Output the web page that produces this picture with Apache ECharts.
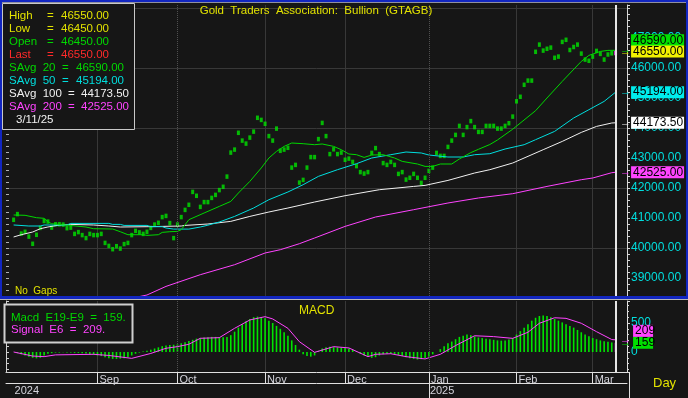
<!DOCTYPE html>
<html>
<head>
<meta charset="utf-8" />
<title>GTAGB</title>
<script src="https://cdn.jsdelivr.net/npm/echarts@6/dist/echarts.min.js"></script>
<style>
html, body { margin: 0; padding: 0; background: #161616; }
#chart { width: 688px; height: 398px; }
</style>
</head>
<body>
<div id="chart"></div>
<script>
// ---- data ----
// axis runs over weekdays, two empty days before the first bar, three after the last
var axisFrom = '2024-07-30', axisTo = '2025-03-14';
var firstBar = 2;   // 2024-08-01
var lastBar = 160;  // 2025-03-11

// mid of each daily high/low mark (day 0 = 2024-08-01)
var mid = [
  40940, 41130, 40480, 40540, 40380, 40140, 40440, 40670, 40900, 40880,
  40680, 40790, 40790, 40780, 40660, 40680, 40470, 40530, 40430, 40330,
  40470, 40430, 40430, 40470, 40170, 40070, 39960, 40060, 39980, 40130,
  40170, 40430, 40570, 40520, 40470, 40540, 40670, 40780, 40840, 41030,
  41070, 40830, 40330, 40780, 41030, 41270, 41440, 41870, 41740, 41370,
  41530, 41530, 41670, 41770, 41930, 42040, 42380, 43180, 43280, 43840,
  43580, 43480, 43680, 43880, 44340, 44270, 44140, 43730, 43580, 43980,
  43240, 43280, 43340, 42680, 42770, 42180, 42270, 42680, 43030, 43030,
  43630, 44170, 43730, 43130, 43290, 43130, 43180, 42940, 42980, 42870,
  42730, 42530, 42480, 42530, 43170, 43330, 43130, 42830, 42770, 42870,
  42770, 42470, 42530, 42280, 42340, 42470, 42340, 42170, 42340, 42570,
  42680, 43170, 43070, 43070, 43370, 43580, 43770, 44070, 43770, 44030,
  44230, 44030, 43870, 43870, 44070, 44070, 44070, 43980, 43980, 44070,
  44160, 44380, 44890, 45040, 45440, 45580, 45580, 46540, 46780, 46580,
  46640, 46680, 46340, 46380, 46870, 46940, 46600, 46700, 46780, 46480,
  46280, 46240, 46380, 46570, 46470, 46280, 46450, 46490, 46500
];

// moving averages, [day, value]
var savg20 = [[0,41100],[3,41090],[6,41010],[8,40990],[9,40870],[10,40810],[15,40750],[19,40700],[21,40643],[26,40633],
  [28,40543],[30,40443],[34,40443],[35,40420],[38,40443],[39,40520],[41,40543],[43,40553],[44,40610],[46,40943],
  [50,41167],[54,41387],[57,41553],[59,41833],[62,42220],[65,42667],[67,43000],[69,43220],[71,43387],[73,43500],
  [76,43477],[79,43443],[81,43467],[84,43387],[86,43277],[88,43133],[90,43110],[92,43020],[94,43100],[97,43110],
  [100,43000],[102,42887],[106,42800],[108,42720],[110,42720],[112,42800],[115,42800],[117,42967],[120,43180],[122,43290],
  [125,43450],[127,43600],[131,43960],[137,44577],[140,45000],[144,45553],[149,46220],[151,46420],[154,46553],[156,46587],[158,46590]];
var savg50 = [[0,40767],[4,40733],[7,40733],[8,40767],[14,40767],[15,40820],[25,40820],[26,40787],[28,40787],[29,40753],
  [35,40753],[36,40710],[39,40710],[40,40667],[42,40630],[46,40630],[49,40700],[51,40760],[54,40867],[58,41053],
  [63,41333],[67,41610],[72,41867],[76,42110],[80,42387],[85,42610],[90,42810],[94,43000],[99,43110],[103,43200],
  [107,43167],[109,43100],[114,43033],[118,43033],[121,43110],[125,43143],[129,43300],[134,43443],[137,43610],[142,43887],
  [147,44333],[151,44610],[155,44887],[158,45194]];
var savg100 = [[0,40367],[2,40443],[5,40533],[7,40643],[9,40700],[12,40767],[15,40787],[21,40767],[25,40733],[28,40700],
  [35,40710],[39,40720],[44,40733],[45,40753],[51,40800],[57,40887],[62,41053],[67,41200],[72,41333],[79,41533],
  [87,41743],[96,41943],[105,42053],[108,42087],[114,42253],[121,42500],[125,42610],[131,42833],[139,43277],[144,43553],
  [149,43853],[153,44053],[157,44167],[158,44173.5]];
var savg200 = [[33,38380],[35,38433],[40,38720],[49,39110],[58,39443],[66,39833],[70,39943],[75,40143],[79,40333],[87,40720],
  [95,41033],[105,41277],[114,41500],[122,41667],[131,41810],[140,42053],[149,42277],[152,42333],[157,42510],[158,42525]];

// MACD histogram, one bar per day
var macd = [
  0, -20, -40, -60, -80, -100, -110, -100, -60,
  -30, -20, -10, -10, -5, -10, -10, -15, -15, -20, -25,
  -40, -50, -60, -70, -90, -110, -120, -120, -115, -110, -90,
  -60, -30, -10, 10, 20, 40,
  60, 80, 100, 110, 120, 125,
  130, 150, 170, 190, 210,
  230, 240, 250, 255, 260, 260, 255, 255, 260, 290,
  350, 420, 480, 530, 570, 600, 610, 600, 580,
  540, 500, 450, 400, 340, 280, 200, 120, 40,
  -40, -70, -80, -60,
  20, 60, 80, 90, 85, 80, 75, 70, 60,
  40, 10, -30, -60, -80, -100, -90, -60,
  -40, -30, -30, -35, -50, -70, -90,
  -110, -120, -130, -125, -110, -80, -40, 0,
  50, 100, 150, 180, 220, 260,
  280, 300, 290, 270, 250,
  240, 230, 220, 210, 200, 195, 200, 215, 240,
  300, 360, 420, 480, 540, 590, 620,
  630, 620, 600, 570,
  540, 510, 480, 450, 420, 380, 340,
  300, 270, 240, 220, 200, 185, 175, 165, 159
];
var signal = [[0,0],[5,-70],[8,-80],[11,-50],[21,-40],[25,-60],[31,-110],[36,-25],[40,64],[43,92],
  [46,133],[49,236],[54,247],[58,408],[62,552],[66,609],[68,570],[72,408],[75,178],[79,-6],
  [84,92],[88,70],[93,-80],[95,-40],[99,-30],[103,-80],[108,-120],[112,-40],[116,110],[121,280],
  [126,265],[131,235],[135,340],[138,495],[142,590],[145,580],[149,495],[153,350],[157,215],[158,209]];

// readout box
var readLabels = ['High', 'Low', 'Open', 'Last', 'SAvg  20', 'SAvg  50', 'SAvg  100', 'SAvg  200'];
var readValues = ['46550.00', '46450.00', '46450.00', '46550.00', '46590.00', '45194.00', '44173.50', '42525.00'];
var readDate = '3/11/25';
var macdLabels = ['Macd  E19-E9  =  159.', 'Signal  E6  =  209.'];
var macdLast = 159, signalLast = 209;
var monthNames = ['Jan','Feb','Mar','Apr','May','Jun','Jul','Aug','Sep','Oct','Nov','Dec'];
var title = 'Gold  Traders  Association:  Bullion  (GTAGB)';

// ---- colours ----
var cBg = '#161616', cGrid = '#383838', cYellow = '#e2e200', cGreen = '#00d800', cBarGreen = '#00e400',
    cCyan = '#00dede', cWhite = '#f0f0f0', cMag = '#ff44ff', cRed = '#ff2a2a', cBlue = '#1226c0';
var readColors = [cYellow, cYellow, cGreen, cRed, cGreen, cCyan, cWhite, cMag];
var font = 'Liberation Sans, Arial, sans-serif';

// weekday axis
var days = [];
(function () {
  var d = new Date(axisFrom + 'T00:00:00Z'), end = new Date(axisTo + 'T00:00:00Z');
  while (d <= end) {
    var w = d.getUTCDay();
    if (w !== 0 && w !== 6) days.push(d.toISOString().slice(0, 10));
    d.setUTCDate(d.getUTCDate() + 1);
  }
})();
var monthStart = {}, yearStart = {};
days.forEach(function (d, i) {
  if (i > firstBar && d.slice(5, 7) !== days[i - 1].slice(5, 7)) monthStart[i] = true;
  if (i > 0 && d.slice(0, 4) !== days[i - 1].slice(0, 4)) yearStart[i] = true;
});
function isMonth(i) { return !!monthStart[i]; }
function solidLine(i) { var m = days[i].slice(5, 7); return !!monthStart[i] && m !== '10' && m !== '01'; }
var dotted = [];
days.forEach(function (d, i) { if (monthStart[i] && !solidLine(i)) dotted.push(d); });

function onAxis(pairs) { return pairs.map(function (p) { return [days[p[0] + firstBar], p[1]]; }); }

var priceData = mid.map(function (v, i) {
  var item = { value: [days[i + firstBar], v] };
  if (i + firstBar === lastBar) item.itemStyle = { color: cMag };
  return item;
});
var macdData = macd.map(function (v, i) {
  var item = { value: [days[i + firstBar], v] };
  if (i + firstBar === lastBar) item.itemStyle = { color: cMag };
  return item;
});

function tags(val, text, arrowColor, bg, dy, boxW, dist) {
  var at = [days[lastBar], val];
  var blank = { symbol: 'rect', symbolSize: 1, itemStyle: { color: 'rgba(0,0,0,0)' } };
  return [
    Object.assign({ coord: at, label: { show: true, position: 'right', distance: 4, formatter: '\u2192',
      color: arrowColor, fontSize: 11, fontFamily: font } }, blank),
    Object.assign({ coord: at, label: { show: true, position: 'right', distance: dist, offset: [0, dy], formatter: text,
      color: '#000', backgroundColor: bg, fontSize: 12, fontFamily: font, width: boxW, lineHeight: 11,
      padding: [1, 1, 0, 2] } }, blank)
  ];
}
function lastLine() {
  var data = [{ xAxis: days[lastBar], lineStyle: { color: '#e6e6e6', width: 2, type: 'solid' } }];
  dotted.forEach(function (d) { data.push({ xAxis: d, lineStyle: { color: '#505050', width: 1, type: 'dotted' } }); });
  return { silent: true, symbol: 'none', label: { show: false }, data: data };
}

function txt(x, y, s, color, size, align) {
  return { type: 'text', x: x, y: y, z: 60, silent: true,
    style: { text: s, fill: color, font: size + 'px ' + font, textAlign: align || 'left', align: align || 'left',
      textVerticalAlign: 'middle', verticalAlign: 'middle' } };
}
function rect(x, y, w, h, fill, stroke, lw, z) {
  return { type: 'rect', z: z || 55, silent: true, shape: { x: x, y: y, width: w, height: h },
    style: { fill: fill, stroke: stroke || null, lineWidth: lw || 0 } };
}

var graphics = [
  rect(0, 0, 688, 2, cBlue, null, 0, 90),
  rect(0, 2, 688, 1, '#9090a0', null, 0, 90),
  rect(0, 0, 2, 298, cBlue, null, 0, 90),
  rect(686, 0, 2, 298, cBlue, null, 0, 90),
  rect(0, 296, 688, 3, cBlue, null, 0, 90),
  rect(0, 299, 688, 1, '#b8b8b8', null, 0, 90),
  rect(2.5, 3.5, 132, 126, cBg, '#c8c8c8', 1),
  rect(4.5, 304.5, 128, 38, cBg, '#d0d0d0', 2),
  rect(629, 372, 1, 26, '#e0e0e0', null, 0, 60),
  txt(316, 11, title, cYellow, 11.5, 'center'),
  txt(15, 291, 'No  Gaps', cYellow, 10),
  txt(299, 311, 'MACD', cYellow, 12),
  txt(653, 383, 'Day', cYellow, 13),
  txt(11, 318, macdLabels[0], cGreen, 11.5),
  txt(11, 330, macdLabels[1], cMag, 11.5),
  txt(16, 120, readDate, cWhite, 11.5)
];
var eqX = [47, 47, 47, 47, 62, 62, 68, 68], valX = [61, 61, 61, 61, 76, 76, 81, 81];
readLabels.forEach(function (s, i) {
  var y = 16 + i * 13;
  graphics.push(txt(9, y, s, readColors[i], 11.5));
  graphics.push(txt(eqX[i], y, '=', readColors[i], 11.5));
  graphics.push(txt(valX[i], y, readValues[i], readColors[i], 11.5));
});

var chart = echarts.init(document.getElementById('chart'));
var option = {
  backgroundColor: cBg,
  animation: false,
  textStyle: { fontFamily: font },
  grid: [
    { left: 6, top: 5, width: 621, height: 291, outerBoundsMode: 'none', containLabel: false },
    { left: 6, top: 301, width: 621, height: 71, outerBoundsMode: 'none', containLabel: false }
  ],
  xAxis: [
    { type: 'category', gridIndex: 0, position: 'bottom', data: days, boundaryGap: false,
      axisLine: { show: false, onZero: false }, axisTick: { show: false }, axisLabel: { show: false },
      splitLine: { show: true, interval: solidLine, lineStyle: { color: cGrid } } },
    { type: 'category', gridIndex: 1, position: 'bottom', data: days, boundaryGap: false,
      axisLine: { show: true, onZero: false, lineStyle: { color: '#e0e0e0' } },
      axisTick: { show: true, interval: isMonth, length: 11, lineStyle: { color: '#e0e0e0' } },
      axisLabel: { show: true, interval: isMonth, align: 'left', margin: 2, padding: [0, 0, 0, 2],
        color: '#d4d4dc', fontSize: 11, fontFamily: font,
        formatter: function (v) { return monthNames[+v.slice(5, 7) - 1]; } },
      splitLine: { show: true, interval: solidLine, lineStyle: { color: cGrid } } },
    { type: 'category', gridIndex: 1, position: 'bottom', data: days, boundaryGap: false, offset: 11,
      axisLine: { show: true, onZero: false, lineStyle: { color: '#e0e0e0' } },
      axisTick: { show: true, interval: function (i) { return !!yearStart[i]; }, length: 15, lineStyle: { color: '#e0e0e0' } },
      axisLabel: { show: true, interval: function (i) { return i === firstBar || !!yearStart[i]; }, align: 'left',
        margin: 2, padding: [0, 0, 0, 1], color: '#d4d4dc', fontSize: 11, fontFamily: font,
        formatter: function (v) { return v.slice(0, 4); } },
      splitLine: { show: false } }
  ],
  yAxis: [
    { type: 'value', gridIndex: 0, position: 'right', min: 38400, max: 48100, splitNumber: 10,
      axisLine: { show: true, lineStyle: { color: '#d8d8d8' } },
      axisTick: { show: true, length: 3, lineStyle: { color: '#d8d8d8' } },
      minorTick: { show: true, splitNumber: 5, length: 3, lineStyle: { color: '#d8d8d8' } },
      axisLabel: { show: true, color: cCyan, fontSize: 12, fontFamily: font, margin: 4,
        showMinLabel: false, showMaxLabel: false,
        formatter: function (v) { return v > 47500 ? '' : v.toFixed(2); } },
      splitLine: { show: false } },
    { type: 'value', gridIndex: 0, position: 'left', min: 38400, max: 48100, splitNumber: 5,
      axisLine: { show: false },
      axisTick: { show: true, inside: true, length: 3, lineStyle: { color: '#b0b0b0' } },
      minorTick: { show: true, splitNumber: 10, length: 3, lineStyle: { color: '#b0b0b0' } },
      axisLabel: { show: false },
      splitLine: { show: true, showMinLine: false, showMaxLine: false, lineStyle: { color: cGrid } } },
    { type: 'value', gridIndex: 1, position: 'right', min: -345, max: 879, splitNumber: 2,
      axisLine: { show: true, lineStyle: { color: '#e0e0e0' } },
      axisTick: { show: true, length: 3, lineStyle: { color: '#d8d8d8' } },
      minorTick: { show: true, splitNumber: 5, length: 2, lineStyle: { color: '#d8d8d8' } },
      axisLabel: { show: true, color: cCyan, fontSize: 12, fontFamily: font, margin: 4,
        showMinLabel: false, showMaxLabel: false },
      splitLine: { show: false } },
    { type: 'value', gridIndex: 1, position: 'left', min: -345, max: 879, splitNumber: 2,
      axisLine: { show: true, lineStyle: { color: '#d0d0d0' } },
      axisTick: { show: true, inside: true, length: 3, lineStyle: { color: '#d0d0d0' } },
      minorTick: { show: true, splitNumber: 5, length: 3, lineStyle: { color: '#d0d0d0' } },
      axisLabel: { show: false }, splitLine: { show: false } }
  ],
  series: [
    { name: 'SAvg 200', type: 'line', xAxisIndex: 0, yAxisIndex: 0, data: onAxis(savg200), showSymbol: false,
      lineStyle: { color: cMag, width: 1 }, clip: true,
      markPoint: { silent: true, data: tags(parseFloat(readValues[7]), readValues[7], cMag, cMag, 0, 50, 15) } },
    { name: 'SAvg 100', type: 'line', xAxisIndex: 0, yAxisIndex: 0, data: onAxis(savg100), showSymbol: false,
      lineStyle: { color: cWhite, width: 1 },
      markPoint: { silent: true, data: tags(parseFloat(readValues[6]), readValues[6], cWhite, '#ffffff', 0, 50, 15) } },
    { name: 'SAvg 50', type: 'line', xAxisIndex: 0, yAxisIndex: 0, data: onAxis(savg50), showSymbol: false,
      lineStyle: { color: cCyan, width: 1 },
      markPoint: { silent: true, data: tags(parseFloat(readValues[5]), readValues[5], cCyan, '#00ecec', 0, 50, 15) } },
    { name: 'SAvg 20', type: 'line', xAxisIndex: 0, yAxisIndex: 0, data: onAxis(savg20), showSymbol: false,
      lineStyle: { color: cGreen, width: 1 },
      markPoint: { silent: true, data: tags(parseFloat(readValues[4]), readValues[4], cGreen, '#00e000', -10, 50, 15) } },
    { name: 'Price', type: 'scatter', xAxisIndex: 0, yAxisIndex: 0, data: priceData,
      symbol: 'rect', symbolSize: [3, 4.5], itemStyle: { color: cBarGreen },
      markLine: lastLine(),
      markPoint: { silent: true, data: tags(parseFloat(readValues[3]), readValues[3], cYellow, '#f2f200', 0, 50, 15) } },
    { name: 'Macd', type: 'bar', xAxisIndex: 1, yAxisIndex: 2, data: macdData, barWidth: 1.6,
      itemStyle: { color: cBarGreen }, markLine: lastLine(),
      markPoint: { silent: true, data: tags(macdLast, String(macdLast), cGreen, '#00e000', 0, 17, 17) } },
    { name: 'Signal', type: 'line', xAxisIndex: 1, yAxisIndex: 2, data: onAxis(signal), showSymbol: false,
      lineStyle: { color: cMag, width: 1 },
      markPoint: { silent: true, data: tags(signalLast, String(signalLast), cMag, cMag, -9, 17, 17) } }
  ],
  graphic: graphics
};
chart.setOption(option);
</script>
</body>
</html>
